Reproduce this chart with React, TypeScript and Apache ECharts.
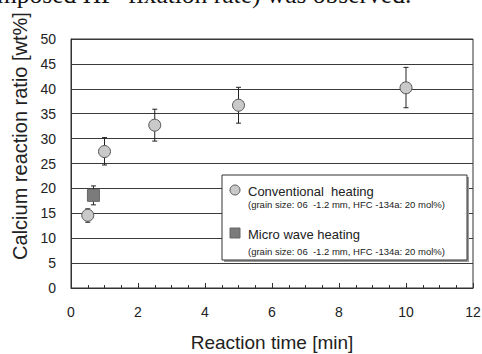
import React, { useEffect, useRef } from "react";
import * as echarts from "echarts";

// Conventional heating
const convTime = [0.5, 1, 2.5, 5, 10];
const convRatio = [14.6, 27.4, 32.7, 36.7, 40.2];
const convLow = [13.2, 24.7, 29.5, 33.1, 36.2];
const convHigh = [15.9, 30.2, 35.9, 40.3, 44.3];

// Micro wave heating
const mwTime = [0.67];
const mwRatio = [18.6];
const mwLow = [16.7];
const mwHigh = [20.5];

const legendNames = ["Conventional  heating", "Micro wave heating"];
const legendNote = "(grain size: 06  -1.2 mm, HFC -134a: 20 mol%)";
const topText = "mposed HF  fixation rate) was observed.";
const xName = "Reaction time [min]";
const yName = "Calcium reaction ratio [wt%]";

const FONT = "'Liberation Sans', Arial, sans-serif";

export default function App() {
  const ref = useRef<HTMLDivElement>(null);
  useEffect(() => {
    if (!ref.current) return;
    const chart = echarts.init(ref.current, null, { renderer: "svg" });

    const errData = [
      ...convTime.map((t, i) => [t, convLow[i], convHigh[i]]),
      ...mwTime.map((t, i) => [t, mwLow[i], mwHigh[i]]),
    ];

    const renderErr = (params: any, api: any) => {
      const x = api.value(0);
      const lo = api.coord([x, api.value(1)]);
      const hi = api.coord([x, api.value(2)]);
      const cap = 2.5;
      const style = { stroke: "#222", lineWidth: 1 };
      return {
        type: "group",
        children: [
          { type: "line", shape: { x1: lo[0], y1: lo[1], x2: hi[0], y2: hi[1] }, style },
          { type: "line", shape: { x1: hi[0] - cap, y1: hi[1], x2: hi[0] + cap, y2: hi[1] }, style },
          { type: "line", shape: { x1: lo[0] - cap, y1: lo[1], x2: lo[0] + cap, y2: lo[1] }, style },
        ],
      };
    };

    chart.setOption({
      animation: false,
      textStyle: { fontFamily: FONT },
      grid: {
        left: 71,
        right: 9,
        top: 39,
        bottom: 66,
        containLabel: false,
        outerBoundsMode: "none",
        show: true,
        borderColor: "#333",
        borderWidth: 1,
      },
      xAxis: {
        type: "value",
        min: 0,
        max: 12,
        interval: 2,
        axisLine: { show: true, lineStyle: { color: "#333", width: 1 } },
        axisTick: { show: true, inside: true, length: 5, lineStyle: { color: "#333" } },
        minorTick: { show: true, splitNumber: 4, length: 3, lineStyle: { color: "#333" } },
        splitLine: { show: false },
        axisLabel: { fontSize: 14, color: "#222", margin: 17, fontFamily: FONT },
        name: xName,
        nameLocation: "middle",
        nameGap: 45,
        nameTextStyle: { fontSize: 19, color: "#222", fontFamily: FONT },
      },
      yAxis: {
        type: "value",
        min: 0,
        max: 50,
        interval: 5,
        axisLine: { show: true, lineStyle: { color: "#333", width: 1 } },
        axisTick: { show: false },
        splitLine: { show: true, lineStyle: { color: "#3a3a3a", width: 1 } },
        axisLabel: { fontSize: 14, color: "#222", margin: 15, fontFamily: FONT },
      },
      graphic: [
        {
          type: "text",
          x: -3,
          y: 7,
          style: {
            text: topText,
            font: "25.5px 'Liberation Serif', 'Times New Roman', serif",
            fill: "#111",
            textVerticalAlign: "bottom",
          },
          z: 100,
        },
        {
          type: "text",
          x: 20,
          y: 136,
          rotation: Math.PI / 2,
          style: {
            text: yName,
            font: `20px ${FONT}`,
            fill: "#222",
            textAlign: "center",
            textVerticalAlign: "middle",
          },
        },
        { type: "rect", shape: { x: 224, y: 177, width: 245, height: 85 }, style: { fill: "#999" }, z: 50 },
        {
          type: "rect",
          shape: { x: 222, y: 175, width: 245, height: 85 },
          style: { fill: "#fff", stroke: "#333", lineWidth: 1 },
          z: 51,
        },
        {
          type: "circle",
          shape: { cx: 235, cy: 190, r: 5 },
          style: { fill: "#c9c9c9", stroke: "#555", lineWidth: 1 },
          z: 52,
        },
        {
          type: "text",
          x: 248,
          y: 191.5,
          style: { text: legendNames[0], font: `13px ${FONT}`, fill: "#222", textVerticalAlign: "middle" },
          z: 52,
        },
        {
          type: "text",
          x: 248,
          y: 204.5,
          style: { text: legendNote, font: `9.5px ${FONT}`, fill: "#222", textVerticalAlign: "middle" },
          z: 52,
        },
        {
          type: "rect",
          shape: { x: 230, y: 228, width: 10, height: 10 },
          style: { fill: "#7b7b7b", stroke: "#666", lineWidth: 1 },
          z: 52,
        },
        {
          type: "text",
          x: 248,
          y: 234,
          style: { text: legendNames[1], font: `13px ${FONT}`, fill: "#222", textVerticalAlign: "middle" },
          z: 52,
        },
        {
          type: "text",
          x: 248,
          y: 251,
          style: { text: legendNote, font: `9.5px ${FONT}`, fill: "#222", textVerticalAlign: "middle" },
          z: 52,
        },
      ],
      series: [
        {
          type: "custom",
          renderItem: renderErr,
          data: errData,
          encode: { x: 0, y: [1, 2] },
          z: 3,
        },
        {
          name: legendNames[0],
          type: "scatter",
          symbol: "circle",
          symbolSize: 12,
          data: convTime.map((t, i) => [t, convRatio[i]]),
          itemStyle: { color: "#c9c9c9", borderColor: "#555", borderWidth: 1, opacity: 1 },
          z: 5,
        },
        {
          name: legendNames[1],
          type: "scatter",
          symbol: "rect",
          symbolSize: 12,
          data: mwTime.map((t, i) => [t, mwRatio[i]]),
          itemStyle: { color: "#7b7b7b", borderColor: "#666", borderWidth: 1, opacity: 1 },
          z: 5,
        },
      ],
    });
    return () => chart.dispose();
  }, []);

  return (
    <div
      ref={ref}
      style={{ position: "fixed", left: 0, top: 0, width: 482, height: 354, background: "#fff" }}
    />
  );
}
